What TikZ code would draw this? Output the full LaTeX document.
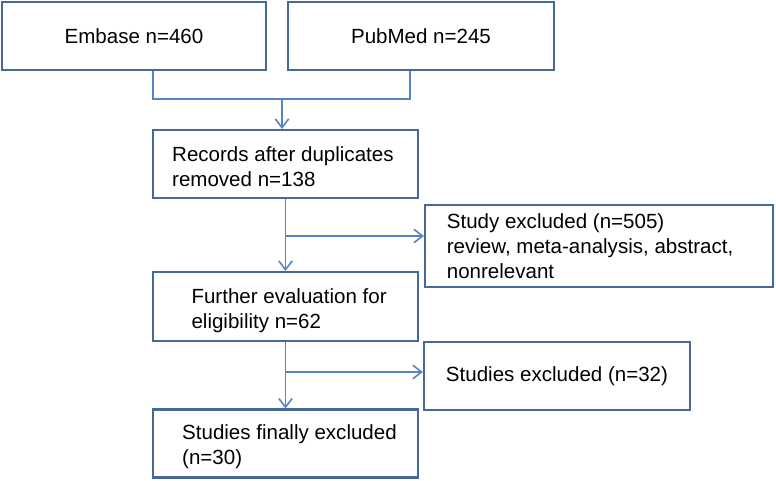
\documentclass[tikz,border=0pt]{standalone}
\usepackage{fontspec}
\setmainfont{Liberation Sans}
\usetikzlibrary{arrows.meta}
\definecolor{boxblue}{HTML}{46699A}
\definecolor{lineblue}{HTML}{5585C2}
\tikzset{
    flowbox/.style={draw=boxblue, line width=1.6pt, fill=white, inner ysep=0pt, font=\fontsize{15.4}{18.75}\selectfont},
    boxtext/.style={anchor=west, align=left, inner sep=0pt, font=\fontsize{15.4}{18.75}\selectfont},
    flowline/.style={draw=lineblue, line width=1.2pt},
    flowarrow/.style={flowline, -{Straight Barb[length=6.5pt,width=10pt]}}
}
\begin{document}
\begin{tikzpicture}[x=0.75pt, y=-0.75pt]
                        \useasboundingbox (0, 0) rectangle (776, 480);
                        % Boxes:
                        \node[flowbox, minimum width=198pt, minimum height=51pt](embase) at (134, 36){Embase n=460};
                        \node[flowbox, minimum width=199.5pt, minimum height=51pt](pubmed) at (421, 36){PubMed n=245};
                        \node[flowbox, minimum width=198.75pt, minimum height=51pt,
                            label={[boxtext, xshift=15pt, yshift=-2pt]west:Records after duplicates\\removed n=138}](records) at (285.5, 164){};
                        \node[flowbox, minimum width=261pt, minimum height=61.5pt,
                            label={[boxtext, xshift=17pt]west:Study excluded (n=505)\\review, meta-analysis, abstract,\\nonrelevant}](excl1) at (599, 246){};
                        \node[flowbox, minimum width=198.75pt, minimum height=51.75pt,
                            label={[boxtext, xshift=29.5pt, yshift=-3pt]west:Further evaluation for\\eligibility n=62}](further) at (285.5, 306.5){};
                        \node[flowbox, minimum width=199.5pt, minimum height=51pt](excl2) at (557, 376){Studies excluded (n=32)};
                        \node[flowbox, minimum width=198.75pt, minimum height=51pt,
                            label={[boxtext, xshift=22.5pt, yshift=-2.5pt]west:Studies finally excluded\\(n=30)}](final) at (285.5, 443.5){};
                        % Connectors:
                        \coordinate (join) at (282, 99);
                        \draw[flowline] (embase.south -| 153, 0) |- (join);
                        \draw[flowline] (pubmed.south -| 410, 0) |- (join);
                        \draw[flowarrow] (join) -- (records.north -| join);
                        \draw[flowarrow] (records) -- (further);
                        \coordinate (split1) at (285.5, 236);
                        \draw[flowarrow] (split1) -- (excl1.west |- split1);
                        \draw[flowarrow] (further) -- (final);
                        \coordinate (split2) at (285.5, 372);
                        \draw[flowarrow] (split2) -- (excl2.west |- split2);
                    \end{tikzpicture}
\end{document}
